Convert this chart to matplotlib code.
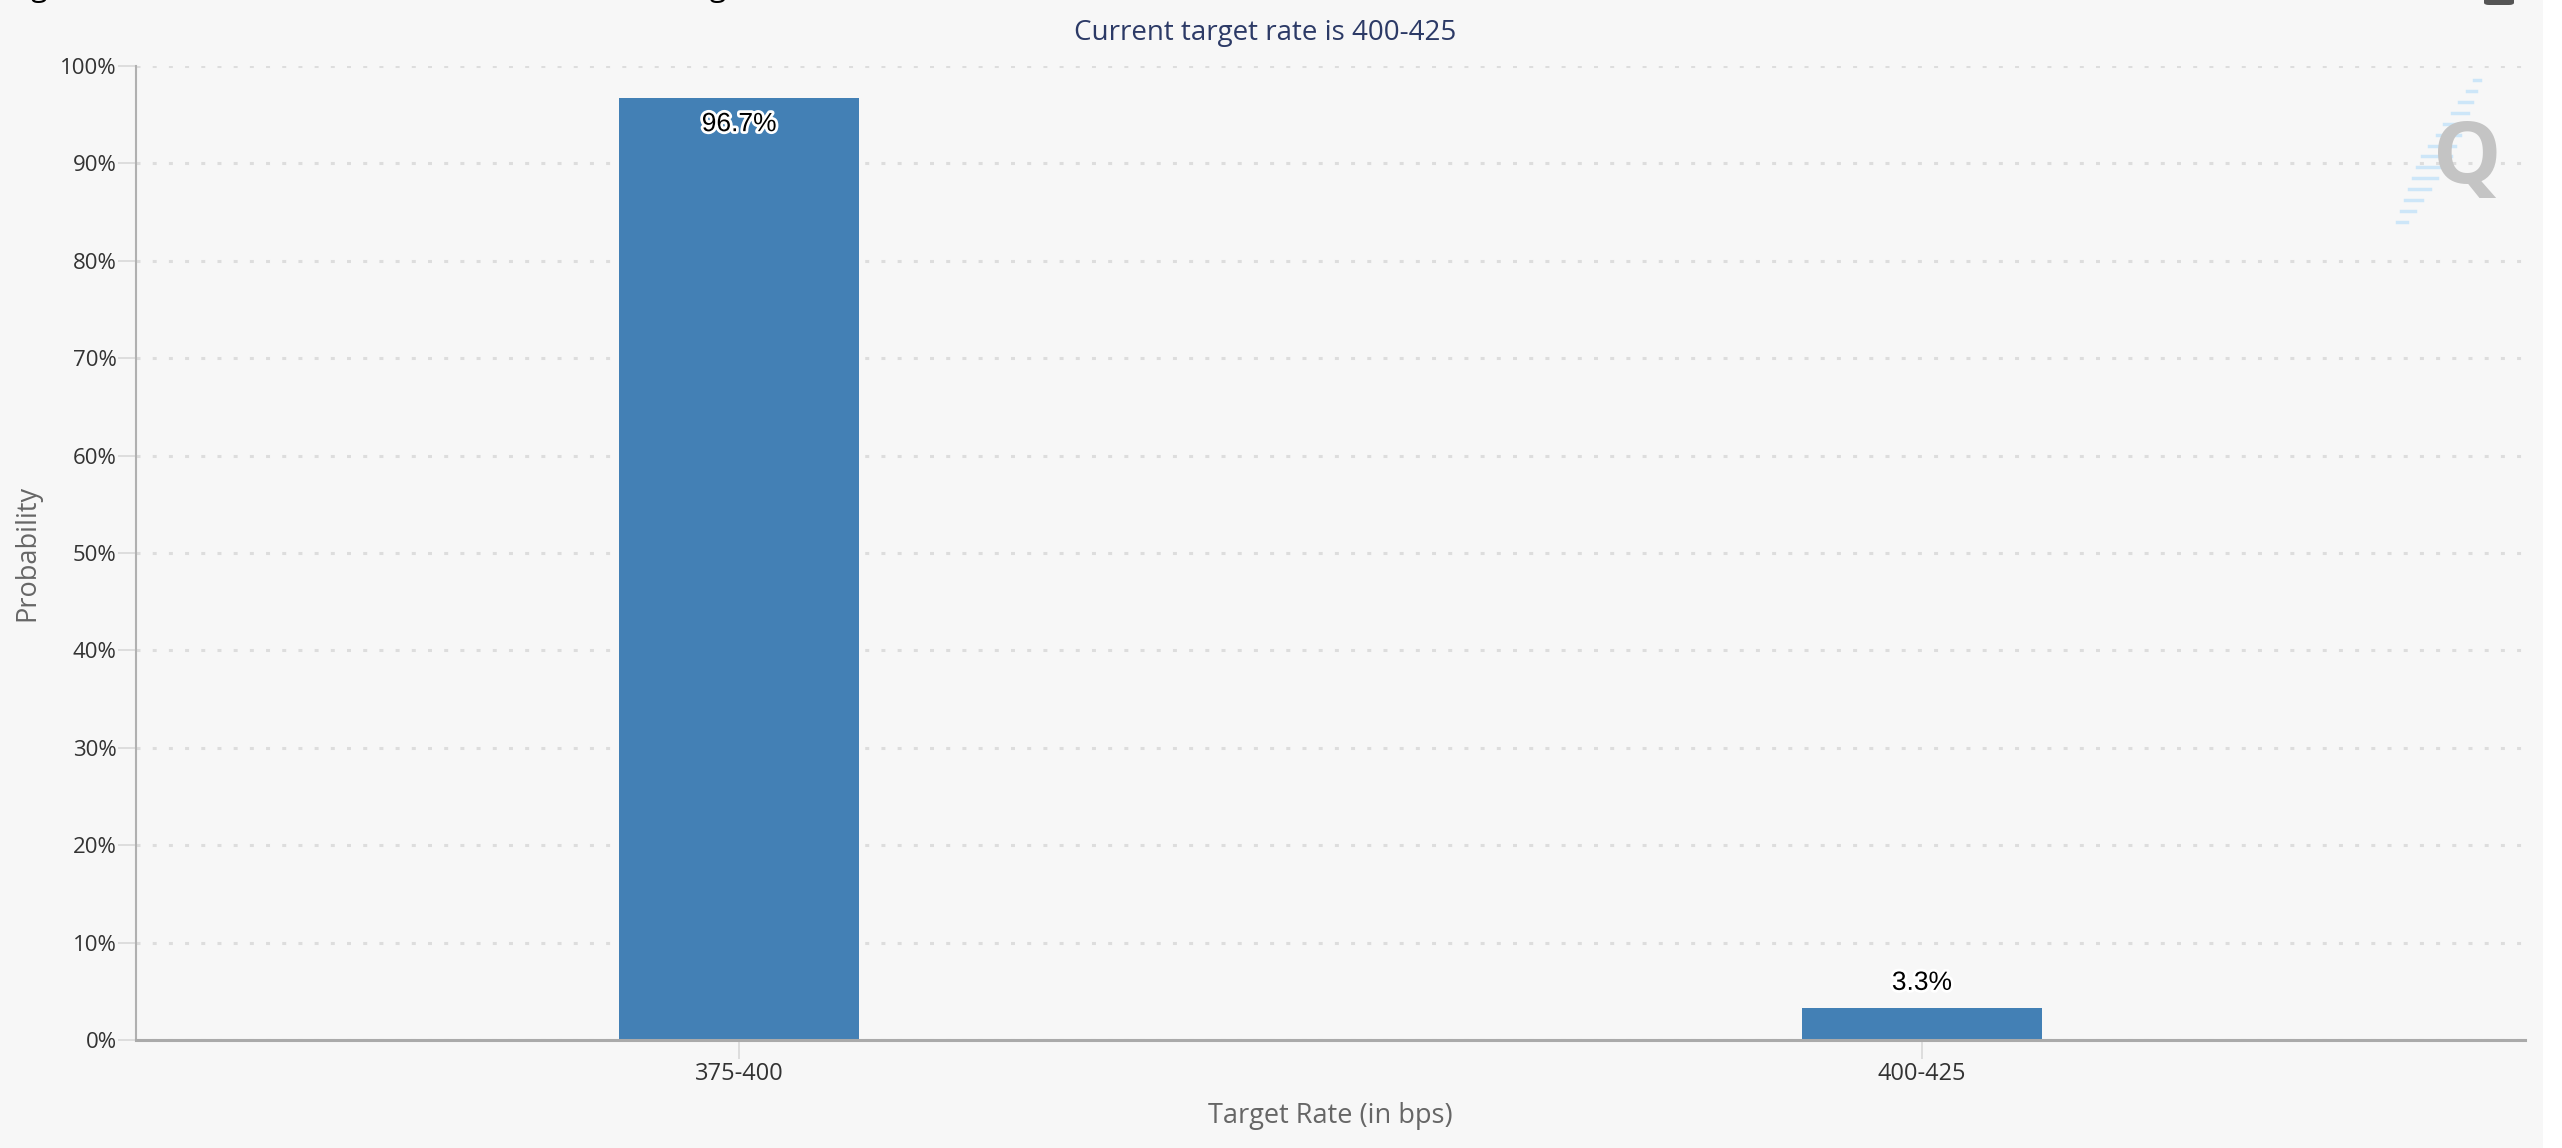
import matplotlib.pyplot as plt
import matplotlib.patheffects as pe
from matplotlib.patches import Rectangle, FancyBboxPatch
from matplotlib.lines import Line2D

# data
rates = ['375-400', '400-425']
probs = [96.7, 3.3]
y_ticks = [0, 10, 20, 30, 40, 50, 60, 70, 80, 90, 100]
y_labels = [f'{t}%' for t in y_ticks]

W, H = 2562, 1148
fig = plt.figure(figsize=(W / 100, H / 100), dpi=100, facecolor='#f7f7f7')

# white strip on the right edge of the screenshot
fig.add_artist(Rectangle((2543 / W, 0), 19 / W, 1, transform=fig.transFigure,
                         facecolor='white', edgecolor='none', zorder=0))

ax = fig.add_axes([136 / W, (H - 1040) / H, (2525 - 136) / W, (1040 - 66) / H])
ax.set_facecolor('#f7f7f7')

x = list(range(len(rates)))
bars = ax.bar(x, probs, width=0.203, color='#4380b5', zorder=3)

ax.set_xlim(-0.51, 1.51)
ax.set_ylim(0, 100)
ax.set_yticks(y_ticks)
ax.set_yticklabels(y_labels)
ax.set_xticks(x)
ax.set_xticklabels(rates)

for lbl in ax.get_yticklabels() + ax.get_xticklabels():
    lbl.set_fontfamily('Open Sans')
    lbl.set_color('#333333')
for lbl in ax.get_yticklabels():
    lbl.set_fontsize(16)
for lbl in ax.get_xticklabels():
    lbl.set_fontsize(17)

ax.grid(axis='y', color='#dddddd', linewidth=2.2, dashes=(1.3, 4), zorder=0)
ax.set_axisbelow(True)

for s in ['top', 'right']:
    ax.spines[s].set_visible(False)
ax.spines['left'].set_color('#b0b0b0')
ax.spines['left'].set_linewidth(1.5)
ax.spines['bottom'].set_color('#aaaaaa')
ax.spines['bottom'].set_linewidth(2.2)
ax.spines['bottom'].set_zorder(4)

ax.tick_params(axis='y', length=13, width=1.4, color='#dddddd', pad=1)
ax.tick_params(axis='x', length=14, width=1.4, color='#dddddd', pad=2)

ax.set_ylabel('Probability', fontfamily='Open Sans', fontsize=19.5, color='#666666', labelpad=13)
ax.set_xlabel('Target Rate (in bps)', fontfamily='Open Sans', fontsize=19.5, color='#666666', labelpad=11)

# value labels
stroke = [pe.withStroke(linewidth=4, foreground='white')]
for xi, p in zip(x, probs):
    off = -26 if p > 50 else 25
    ax.annotate(f'{p}%', (xi, p), xytext=(0, off * 0.72), textcoords='offset points',
                ha='center', va='center', fontsize=19, fontfamily='Liberation Sans',
                color='black', path_effects=stroke, zorder=5)

# chart subtitle
fig.text(1265 / W, 1 - 33 / H, 'Current target rate is 400-425', ha='center', va='center',
         fontsize=20, fontfamily='Open Sans', color='#2c3a66')

# heading cut off by the screenshot (only descenders visible)
fig.text(-14 / W, 1 + 4 / H, 'Target Rate Probabilities for 29 Oct 2025 Fed Meeting',
         ha='left', va='baseline', fontsize=21.5, fontfamily='Open Sans', color='black')

# menu icon cut off at top right
fig.add_artist(FancyBboxPatch((2484 / W, 1 - 5 / H), 30 / W, 10 / H,
                              boxstyle='round,pad=0,rounding_size=0.002',
                              transform=fig.transFigure, facecolor='#555555',
                              edgecolor='none'))

# watermark logo
for i in range(14):
    t = i / 13
    cx = 2477 - t * (2477 - 2402)
    cy = 80 + t * (222 - 80)
    half = 3 + 12 * (1 - abs(t - 0.55) / 0.55)
    fig.add_artist(Line2D([(cx - half) / W, (cx + half) / W], [1 - cy / H, 1 - cy / H],
                          transform=fig.transFigure, color='#cde6f8', linewidth=2.5))
fig.text(2467 / W, 1 - 160 / H, 'Q', ha='center', va='center', fontsize=62,
         fontweight='bold', fontfamily='Open Sans', color='#c4c4c4')

fig.savefig('out.png', dpi=100, facecolor=fig.get_facecolor())
